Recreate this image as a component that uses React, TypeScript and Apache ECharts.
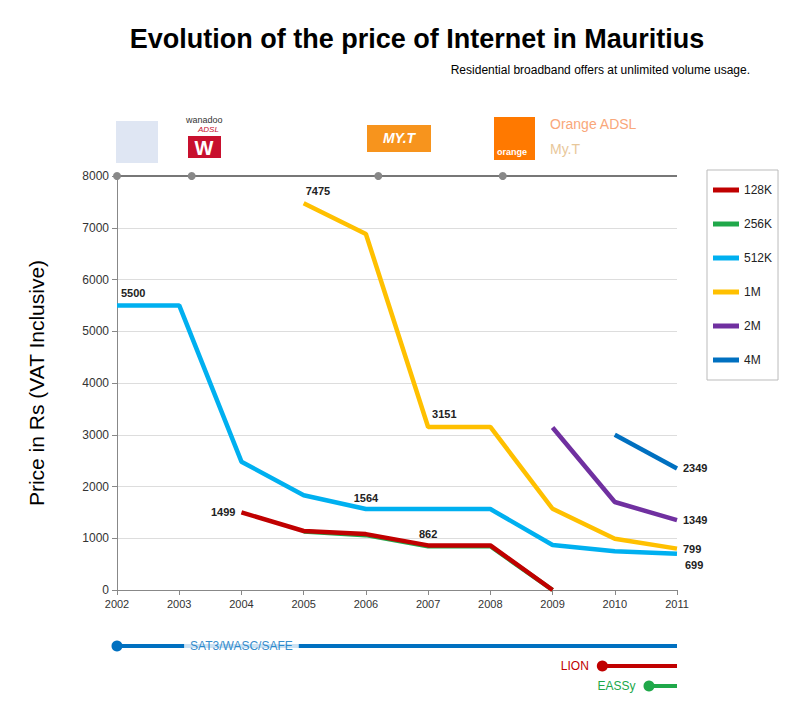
import * as echarts from "echarts";
import { useEffect, useRef } from "react";

const years = [2002, 2003, 2004, 2005, 2006, 2007, 2008, 2009, 2010, 2011];
const k128 = [null, null, 1499, 1140, 1080, 862, 862, 0, null, null];
const k256 = [null, null, null, 1130, 1060, 845, 845, 0, null, null];
const k512 = [5500, 5500, 2480, 1830, 1564, 1564, 1564, 870, 750, 699];
const m1 = [null, null, null, 7475, 6880, 3151, 3151, 1570, 990, 799];
const m2 = [null, null, null, null, null, null, null, 3140, 1700, 1349];
const m4 = [null, null, null, null, null, null, null, null, 3000, 2349];
const operatorYears = [2002, 2003.2, 2006.2, 2008.2];
const cables = ["SAT3/WASC/SAFE", "LION", "EASSy"];
const cableStart = [2002, 2009.8, 2010.55];

const FONT = "Liberation Sans";

function build(
  name: string,
  values: (number | null)[],
  color: string,
  labels: Record<number, string | number[]>
) {
  return {
    name,
    type: "line",
    data: values.map((v, i) => {
      const pos = labels[i];
      return {
        value: [years[i], v],
        label: pos
          ? { show: true, position: pos, distance: 6, fontSize: 11, fontWeight: "bold", color: "#222", fontFamily: FONT }
          : { show: false },
      };
    }),
    lineStyle: { width: 4.5, color },
    itemStyle: { color },
    showSymbol: true,
    symbol: "circle",
    symbolSize: 0,
    connectNulls: false,
    z: 3,
  };
}

export default function App() {
  const ref = useRef<HTMLDivElement>(null);

  useEffect(() => {
    if (!ref.current) return;
    const chart = echarts.init(ref.current, null, { renderer: "svg" });
    chart.setOption({
      animation: false,
      backgroundColor: "#fff",
      title: {
        text: "Evolution of the price of Internet in Mauritius",
        left: 404,
        textAlign: "center",
        top: 12,
        textStyle: { fontSize: 27, fontWeight: "bold", color: "#000", fontFamily: FONT },
      },
      legend: {
        data: ["128K", "256K", "512K", "1M", "2M", "4M"],
        orient: "vertical",
        left: 699,
        top: 162,
        itemWidth: 26,
        itemHeight: 5,
        itemGap: 22,
        icon: "rect",
        padding: [14, 6, 14, 6],
        borderColor: "#bbb",
        borderWidth: 1,
        textStyle: { fontSize: 12, color: "#222", fontFamily: FONT },
      },
      grid: [
        { left: 109, right: 115, top: 168, bottom: 114 },
        { left: 109, right: 115, top: 628, height: 60 },
      ],
      xAxis: [
        {
          type: "value",
          min: 2002,
          max: 2011,
          interval: 1,
          gridIndex: 0,
          axisLine: { lineStyle: { color: "#888" } },
          axisTick: { show: true, lineStyle: { color: "#888" } },
          axisLabel: { fontSize: 11, color: "#333", fontFamily: FONT, formatter: (v: number) => String(v) },
          splitLine: { show: false },
        },
        { type: "value", min: 2002, max: 2011, gridIndex: 1, show: false },
      ],
      yAxis: [
        {
          type: "value",
          min: 0,
          max: 8000,
          interval: 1000,
          gridIndex: 0,
          name: "Price in Rs (VAT Inclusive)",
          nameLocation: "middle",
          nameGap: 70,
          nameTextStyle: { fontSize: 21, color: "#000", fontFamily: FONT },
          axisLine: { show: true, lineStyle: { color: "#888" } },
          axisTick: { show: true, lineStyle: { color: "#888" } },
          axisLabel: { fontSize: 12, color: "#333", fontFamily: FONT, formatter: (v: number) => String(v) },
          splitLine: { lineStyle: { color: "#ddd" } },
        },
        { type: "category", data: cables, inverse: true, gridIndex: 1, show: false },
      ],
      graphic: [
        { type: "text", x: 742, y: 56, style: { text: "Residential broadband offers at unlimited volume usage.", fontSize: 12, fill: "#000", align: "right", fontFamily: FONT } },
        { type: "rect", shape: { x: 108, y: 113, width: 42, height: 42 }, style: { fill: "#dfe6f3" } },
        { type: "text", x: 178, y: 107, style: { text: "wanadoo", fontSize: 9, fill: "#333", fontFamily: FONT } },
        { type: "text", x: 190, y: 117, style: { text: "ADSL", fontSize: 8, fontStyle: "italic", fill: "#c8102e", fontFamily: FONT } },
        { type: "rect", shape: { x: 180, y: 128, width: 33, height: 22 }, style: { fill: "#c8102e" } },
        { type: "text", x: 196, y: 140, style: { text: "W", fontSize: 20, fontWeight: "bold", fill: "#fff", align: "center", verticalAlign: "middle", fontFamily: FONT } },
        { type: "rect", shape: { x: 359, y: 117, width: 64, height: 27 }, style: { fill: "#f7941d" } },
        { type: "text", x: 391, y: 130, style: { text: "MY.T", fontSize: 14, fontWeight: "bold", fontStyle: "italic", fill: "#fff", align: "center", verticalAlign: "middle", fontFamily: FONT } },
        { type: "rect", shape: { x: 486, y: 109, width: 41, height: 43 }, style: { fill: "#ff7900" } },
        { type: "text", x: 489, y: 139, style: { text: "orange", fontSize: 9, fontWeight: "bold", fill: "#fff", fontFamily: FONT } },
        { type: "text", x: 542, y: 109, style: { text: "Orange ADSL", fontSize: 14, fill: "#f9a77a", fontFamily: FONT } },
        { type: "text", x: 542, y: 134, style: { text: "My.T", fontSize: 14, fill: "#e8c79a", fontFamily: FONT } },
      ],
      series: [
        {
          name: "operators",
          type: "line",
          data: [...operatorYears.map((y) => [y, 8000]), { value: [2011, 8000], symbol: "none" }],
          symbol: "circle",
          symbolSize: 8,
          lineStyle: { color: "#777", width: 2 },
          itemStyle: { color: "#888" },
          z: 4,
        },
        build("256K", k256, "#20a84a", {}),
        build("128K", k128, "#c00000", { 2: "left", 5: "top" }),
        build("512K", k512, "#00b0f0", { 0: [4, -18], 4: "top", 9: [8, 6] }),
        build("1M", m1, "#ffc000", { 3: [2, -18], 5: [4, -18], 9: "right" }),
        build("2M", m2, "#7030a0", { 9: "right" }),
        build("4M", m4, "#0070c0", { 9: "right" }),
        ...cables.map((c, i) => ({
          name: c,
          type: "line",
          xAxisIndex: 1,
          yAxisIndex: 1,
          data: [
            {
              value: [cableStart[i], c],
              symbol: "circle",
              symbolSize: 11,
              label: i === 0 ? { show: false } : {
                show: true,
                position: "left",
                distance: 8,
                formatter: c,
                fontSize: 12,
                color: ["#0070c0", "#c00000", "#20a84a"][i],
                fontFamily: FONT,
              },
            },
            { value: [2011, c], symbol: "none" },
          ],
          lineStyle: { width: 4, color: ["#0070c0", "#c00000", "#20a84a"][i] },
          itemStyle: { color: ["#0070c0", "#c00000", "#20a84a"][i] },
        })),
        {
          name: "cableLabel",
          type: "scatter",
          xAxisIndex: 1,
          yAxisIndex: 1,
          symbolSize: 0,
          data: [[2004, cables[0]]],
          label: {
            show: true,
            position: "inside",
            formatter: cables[0],
            fontSize: 12,
            color: "#0070c0",
            backgroundColor: "#fff",
            padding: [2, 6],
            fontFamily: FONT,
          },
          z: 5,
        },
      ],
    });
    return () => chart.dispose();
  }, []);

  return <div ref={ref} style={{ width: 784, height: 696 }} />;
}
